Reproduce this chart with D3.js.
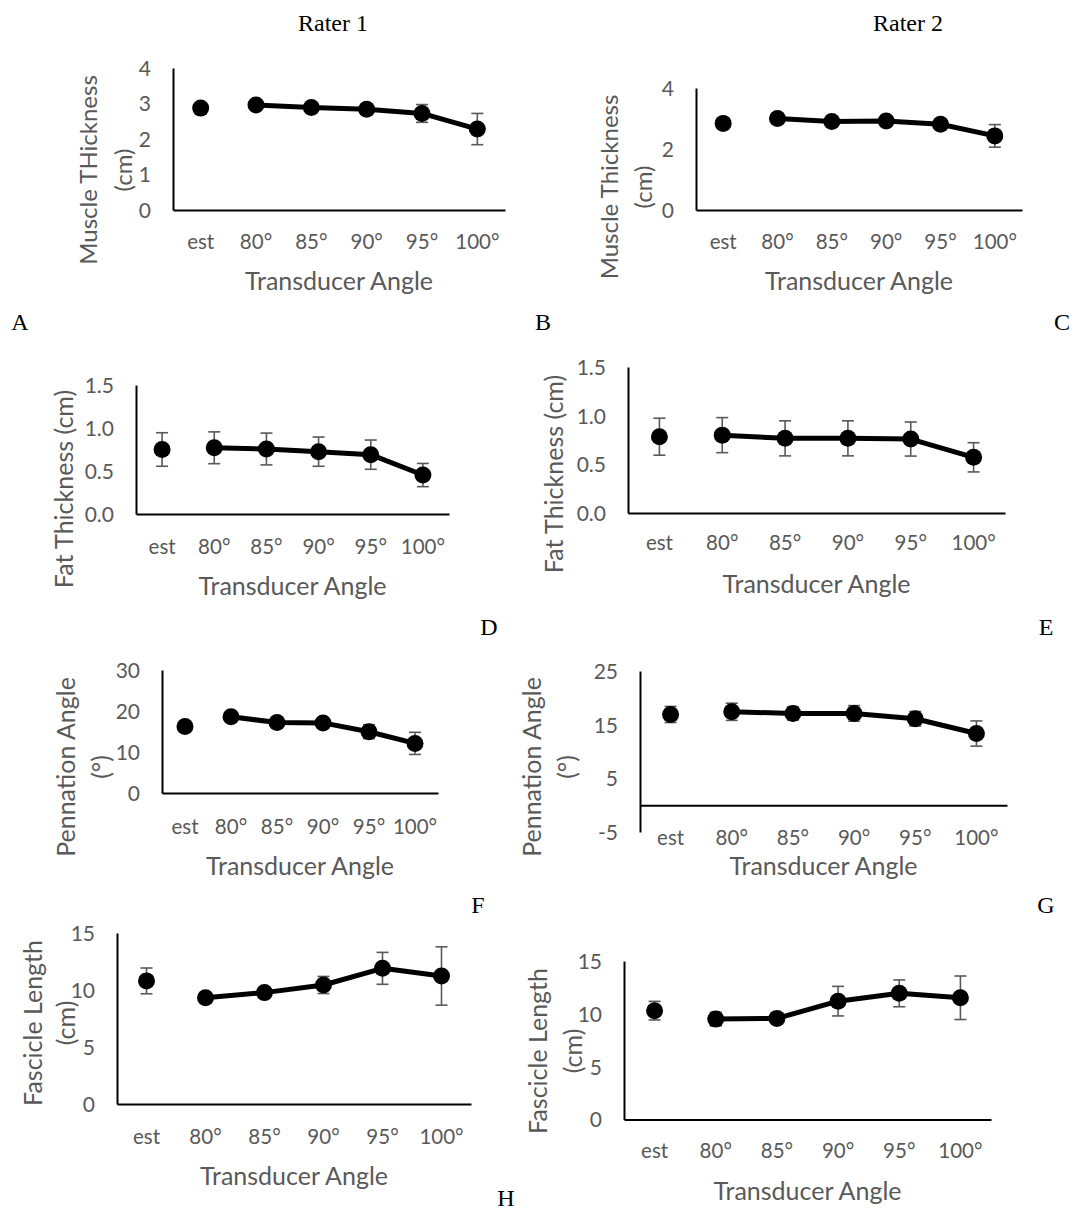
<!DOCTYPE html>
<html>
<head>
<meta charset="utf-8">
<script src="https://cdn.jsdelivr.net/npm/d3@7/dist/d3.min.js"></script>
<style>
  html, body { margin: 0; padding: 0; background: #fff; }
  svg { display: block; }
  .tick text { fill: #595959; font-family: Lato, "Open Sans", sans-serif; }
  .ylab, .xlab { fill: #595959; font-family: Lato, "Open Sans", sans-serif; }
  .serif { fill: #000; font-family: "Liberation Serif", "Times New Roman", serif; }
</style>
</head>
<body>
<svg id="fig" width="1075" height="1216"></svg>
<script>
// Transducer angle categories shared by every panel
const categories = ["est", "80°", "85°", "90°", "95°", "100°"];

// Muscle thickness (cm), mean and SD
const muscleR1 = [2.87, 2.96, 2.89, 2.84, 2.72, 2.28];
const muscleR1Err = [0.05, 0.05, 0.05, 0.05, 0.25, 0.44];
const muscleR2 = [2.84, 3.00, 2.90, 2.92, 2.81, 2.43];
const muscleR2Err = [0.05, 0.05, 0.05, 0.05, 0.10, 0.37];

// Fat thickness (cm)
const fatR1 = [0.75, 0.77, 0.756, 0.725, 0.69, 0.453];
const fatR1Err = [0.195, 0.185, 0.185, 0.17, 0.17, 0.135];
const fatR2 = [0.784, 0.80, 0.767, 0.767, 0.76, 0.572];
const fatR2Err = [0.19, 0.18, 0.18, 0.18, 0.175, 0.15];

// Pennation angle (°)
const pennR1 = [16.2, 18.6, 17.2, 17.1, 14.95, 12.1];
const pennR1Err = [1.2, 1.2, 1.0, 1.2, 1.7, 2.7];
const pennR2 = [16.9, 17.4, 17.1, 17.1, 16.1, 13.35];
const pennR2Err = [1.5, 1.6, 1.25, 1.45, 1.35, 2.35];

// Fascicle length (cm)
const fascR1 = [10.8, 9.33, 9.77, 10.44, 11.9, 11.23];
const fascR1Err = [1.13, 0.3, 0.3, 0.75, 1.4, 2.56];
const fascR2 = [10.3, 9.5, 9.57, 11.2, 11.94, 11.52];
const fascR2Err = [0.88, 0.65, 0.2, 1.4, 1.27, 2.06];

// Y tick values
const muscleTicksR1 = [0, 1, 2, 3, 4];
const muscleTicksR2 = [0, 2, 4];
const fatTicks = [0, 0.5, 1.0, 1.5];
const pennTicksR1 = [0, 10, 20, 30];
const pennTicksR2 = [-5, 5, 15, 25];
const fascTicks = [0, 5, 10, 15];

// Axis titles
const xTitle = "Transducer Angle";

// Tick formats (plain hyphen for negatives)
const intFmt = d => String(d);
const oneDec = d => d.toFixed(1);

// Panel layout: plot box in pixels and label placement
const panels = [
  { values: muscleR1, errs: muscleR1Err, ticks: muscleTicksR1, fmt: intFmt,
    x0: 173, x1: 505, yTop: 68, yBot: 210,
    labLines: ["Muscle THickness", "(cm)"], labX: [87, 122], labY: 170, labSize: 24,
    xTickOff: 32, titleY: 280 },
  { values: muscleR2, errs: muscleR2Err, ticks: muscleTicksR2, fmt: intFmt,
    x0: 696, x1: 1022, yTop: 88, yBot: 210,
    labLines: ["Muscle Thickness", "(cm)"], labX: [608, 642], labY: 187, labSize: 24,
    xTickOff: 32, titleY: 280 },
  { values: fatR1, errs: fatR1Err, ticks: fatTicks, fmt: oneDec,
    x0: 136, x1: 449, yTop: 385, yBot: 514,
    labLines: ["Fat Thickness (cm)"], labX: [63], labY: 489, labSize: 25,
    xTickOff: 33, titleY: 585 },
  { values: fatR2, errs: fatR2Err, ticks: fatTicks, fmt: oneDec,
    x0: 628, x1: 1005, yTop: 367, yBot: 513,
    labLines: ["Fat Thickness (cm)"], labX: [553], labY: 474, labSize: 25,
    xTickOff: 30, titleY: 583 },
  { values: pennR1, errs: pennR1Err, ticks: pennTicksR1, fmt: intFmt,
    x0: 162, x1: 438, yTop: 670, yBot: 793,
    labLines: ["Pennation Angle", "(°)"], labX: [65, 100], labY: 767, labSize: 25,
    xTickOff: 34, titleY: 865 },
  { values: pennR2, errs: pennR2Err, ticks: pennTicksR2, fmt: intFmt,
    x0: 640, x1: 1007, yTop: 671, yBot: 832,
    labLines: ["Pennation Angle", "(°)"], labX: [531, 566], labY: 767, labSize: 25,
    xTickOff: 33, titleY: 865 },
  { values: fascR1, errs: fascR1Err, ticks: fascTicks, fmt: intFmt,
    x0: 117, x1: 471, yTop: 933, yBot: 1104,
    labLines: ["Fascicle Length", "(cm)"], labX: [32, 65], labY: 1023, labSize: 25,
    xTickOff: 33, titleY: 1175 },
  { values: fascR2, errs: fascR2Err, ticks: fascTicks, fmt: intFmt,
    x0: 624, x1: 991, yTop: 961, yBot: 1119.5,
    labLines: ["Fascicle Length", "(cm)"], labX: [537, 572], labY: 1051, labSize: 25,
    xTickOff: 31, titleY: 1190 }
];

// Column headings and panel letters
const headings = [
  { text: "Rater 1", x: 333, y: 23 },
  { text: "Rater 2", x: 908, y: 23 }
];
const letters = [
  { text: "A", x: 20, y: 322 }, { text: "B", x: 543, y: 322 }, { text: "C", x: 1062, y: 322 },
  { text: "D", x: 489, y: 627 }, { text: "E", x: 1046, y: 627 },
  { text: "F", x: 478, y: 905 }, { text: "G", x: 1046, y: 905 },
  { text: "H", x: 506, y: 1198 }
];

const svg = d3.select("#fig");

panels.forEach(p => {
  const ext = d3.extent(p.ticks);
  const y = d3.scaleLinear().domain(ext).range([p.yBot, p.yTop]);
  const x = d3.scaleBand().domain(categories).range([p.x0, p.x1]);
  const g = svg.append("g");
  const y0 = y(Math.max(0, ext[0]));

  // Y axis
  const ya = g.append("g")
    .attr("transform", `translate(${p.x0},0)`)
    .call(d3.axisLeft(y).tickValues(p.ticks).tickFormat(p.fmt).tickSize(0).tickSizeOuter(0).tickPadding(22));
  ya.select(".domain").attr("stroke", "#000").attr("stroke-width", 2);
  ya.selectAll(".tick text").style("font-size", "21px").attr("dy", "0.35em");

  // X axis crossing at zero
  const xa = g.append("g")
    .attr("transform", `translate(0,${y0})`)
    .call(d3.axisBottom(x).tickSize(0).tickSizeOuter(0).tickPadding(p.xTickOff));
  xa.select(".domain").attr("stroke", "#000").attr("stroke-width", 2);
  xa.selectAll(".tick text").style("font-size", "20.5px").attr("dy", "0.35em");

  // Axis titles
  g.append("text").attr("class", "xlab")
    .attr("x", (p.x0 + p.x1) / 2).attr("y", p.titleY)
    .attr("text-anchor", "middle").attr("dominant-baseline", "central")
    .style("font-size", "25px").text(xTitle);
  p.labLines.forEach((t, i) => {
    g.append("text").attr("class", "ylab")
      .attr("transform", `translate(${p.labX[i]},${p.labY}) rotate(-90)`)
      .attr("text-anchor", "middle").attr("dominant-baseline", "central")
      .style("font-size", p.labSize + "px").text(t);
  });

  const pts = categories.map((c, i) => ({ c, v: p.values[i], e: p.errs[i] }));
  const cx = d => x(d.c) + x.bandwidth() / 2;

  // Error bars
  const eb = g.append("g").attr("stroke", "#595959").attr("stroke-width", 1.6).attr("fill", "none");
  pts.forEach(d => {
    const xc = cx(d), yt = y(d.v + d.e), yb = y(d.v - d.e);
    eb.append("line").attr("x1", xc).attr("x2", xc).attr("y1", yt).attr("y2", yb);
    eb.append("line").attr("x1", xc - 6).attr("x2", xc + 6).attr("y1", yt).attr("y2", yt);
    eb.append("line").attr("x1", xc - 6).attr("x2", xc + 6).attr("y1", yb).attr("y2", yb);
  });

  // Connecting line for the angled measurements (est stands alone)
  const line = d3.line().x(cx).y(d => y(d.v));
  g.append("path").datum(pts.slice(1))
    .attr("d", line).attr("fill", "none").attr("stroke", "#000")
    .attr("stroke-width", 5).attr("stroke-linejoin", "round");

  // Markers
  g.selectAll("circle.pt").data(pts).join("circle")
    .attr("class", "pt").attr("cx", cx).attr("cy", d => y(d.v))
    .attr("r", 8.5).attr("fill", "#000");
});

svg.selectAll("text.head").data(headings).join("text")
  .attr("class", "head serif").attr("x", d => d.x).attr("y", d => d.y)
  .attr("text-anchor", "middle").attr("dominant-baseline", "central")
  .style("font-size", "24px").text(d => d.text);

svg.selectAll("text.letter").data(letters).join("text")
  .attr("class", "letter serif").attr("x", d => d.x).attr("y", d => d.y)
  .attr("text-anchor", "middle").attr("dominant-baseline", "central")
  .style("font-size", "24px").text(d => d.text);
</script>
</body>
</html>
